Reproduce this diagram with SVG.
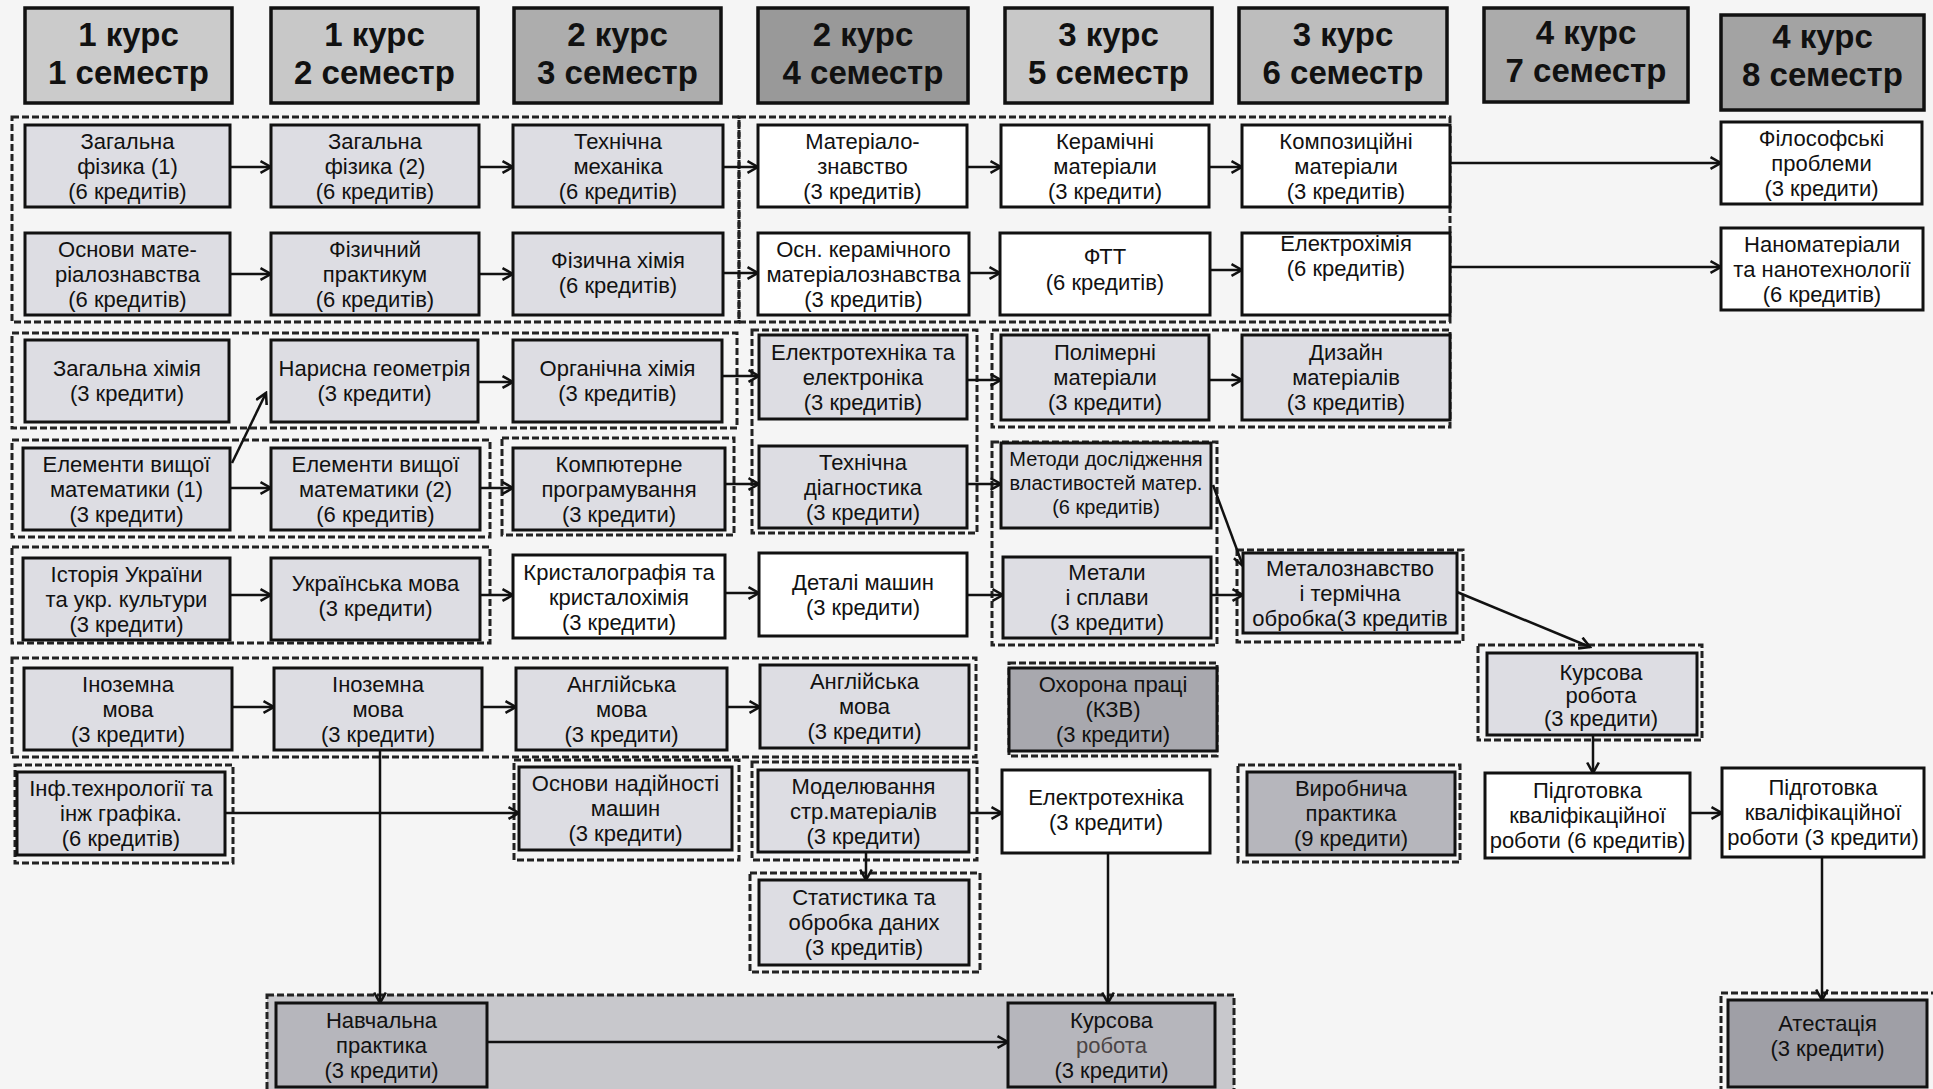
<svg xmlns="http://www.w3.org/2000/svg" width="1933" height="1089" viewBox="0 0 1933 1089">
<style>
.bg{fill:#f5f5f5}
.hdr rect{stroke:#111;stroke-width:3.5}
.hdr text{font-family:"Liberation Sans",Arial,sans-serif;font-size:33px;font-weight:bold;fill:#111;text-anchor:middle}
.n rect{stroke:#111;stroke-width:3}
.n text{font-family:"Liberation Sans",Arial,sans-serif;font-size:22px;fill:#111;text-anchor:middle}
.lt{fill:#dddde3}
.wh{fill:#ffffff}
.dk{fill:#a8a8ae}
.md{fill:#b6b6bc}
.ad{fill:#9f9fa6}
.grp rect{fill:none;stroke:#222;stroke-width:3;stroke-dasharray:7 3}
.conn line{stroke:#111;stroke-width:2.5;marker-end:url(#ah)}
</style>
<defs>
<marker id="ah" viewBox="0 0 12 12" refX="10" refY="6" markerWidth="14" markerHeight="14" markerUnits="userSpaceOnUse" orient="auto">
<path d="M1,1 L10,6 L1,11" fill="none" stroke="#111" stroke-width="2.2"/>
</marker>
</defs>
<rect class="bg" x="0" y="0" width="1933" height="1089"/>

<g id="groups" class="grp">
<rect x="267" y="995" width="967" height="100" style="fill:#c8c8cc"/>
<rect x="12" y="117" width="727" height="205"/>
<rect x="739" y="117" width="711" height="205"/>
<rect x="12" y="333" width="725" height="95"/>
<rect x="752" y="330" width="225" height="203"/>
<rect x="992" y="330" width="458" height="97"/>
<rect x="992" y="442" width="225" height="203"/>
<rect x="1237" y="550" width="226" height="92"/>
<rect x="12" y="440" width="478" height="97"/>
<rect x="502" y="438" width="232" height="97"/>
<rect x="12" y="547" width="478" height="96"/>
<rect x="12" y="658" width="964" height="99"/>
<rect x="1009" y="663" width="208" height="93"/>
<rect x="15" y="765" width="218" height="98"/>
<rect x="514" y="760" width="225" height="100"/>
<rect x="752" y="762" width="225" height="98"/>
<rect x="750" y="873" width="230" height="99"/>
<rect x="1238" y="765" width="222" height="97"/>
<rect x="1721" y="993" width="215" height="100"/>
<rect x="1478" y="645" width="224" height="95"/>
</g>

<g id="headers">
<g id="h1" class="hdr"><rect x="25" y="8" width="207" height="95" fill="#cbcbcb"/><text x="128.5" y="46">1 курс</text><text x="128.5" y="84">1 семестр</text></g>
<g id="h2" class="hdr"><rect x="271" y="8" width="207" height="95" fill="#c8c8c8"/><text x="374.5" y="46">1 курс</text><text x="374.5" y="84">2 семестр</text></g>
<g id="h3" class="hdr"><rect x="514" y="8" width="207" height="95" fill="#adadad"/><text x="617.5" y="46">2 курс</text><text x="617.5" y="84">3 семестр</text></g>
<g id="h4" class="hdr"><rect x="758" y="8" width="210" height="95" fill="#999999"/><text x="863" y="46">2 курс</text><text x="863" y="84">4 семестр</text></g>
<g id="h5" class="hdr"><rect x="1005" y="8" width="207" height="95" fill="#c8c8c8"/><text x="1108.5" y="46">3 курс</text><text x="1108.5" y="84">5 семестр</text></g>
<g id="h6" class="hdr"><rect x="1239" y="8" width="208" height="95" fill="#bdbdbd"/><text x="1343" y="46">3 курс</text><text x="1343" y="84">6 семестр</text></g>
<g id="h7" class="hdr"><rect x="1484" y="8" width="204" height="94" fill="#ababab"/><text x="1586" y="44">4 курс</text><text x="1586" y="82">7 семестр</text></g>
<g id="h8" class="hdr"><rect x="1721" y="15" width="203" height="95" fill="#a3a3a3"/><text x="1822.5" y="48">4 курс</text><text x="1822.5" y="86">8 семестр</text></g>
</g>

<g id="conn" class="conn">
<line x1="230" y1="167" x2="271" y2="167"/>
<line x1="479" y1="167" x2="513" y2="167"/>
<line x1="723" y1="167" x2="758" y2="167"/>
<line x1="967" y1="167" x2="1001" y2="167"/>
<line x1="1209" y1="167" x2="1242" y2="167"/>
<line x1="1450" y1="163" x2="1721" y2="163"/>
<line x1="230" y1="274" x2="271" y2="274"/>
<line x1="479" y1="274" x2="513" y2="274"/>
<line x1="723" y1="273" x2="758" y2="273"/>
<line x1="969" y1="273" x2="1000" y2="273"/>
<line x1="1210" y1="270" x2="1242" y2="270"/>
<line x1="1450" y1="267" x2="1721" y2="267"/>
<line x1="478" y1="382" x2="513" y2="382"/>
<line x1="722" y1="376" x2="759" y2="376"/>
<line x1="967" y1="380" x2="1001" y2="380"/>
<line x1="1209" y1="380" x2="1242" y2="380"/>
<line x1="232" y1="463" x2="266" y2="393"/>
<line x1="230" y1="488" x2="271" y2="488"/>
<line x1="480" y1="488" x2="513" y2="488"/>
<line x1="725" y1="484" x2="759" y2="484"/>
<line x1="967" y1="484" x2="1001" y2="484"/>
<line x1="1213" y1="485" x2="1243" y2="566"/>
<line x1="230" y1="595" x2="271" y2="595"/>
<line x1="480" y1="595" x2="513" y2="595"/>
<line x1="725" y1="593" x2="759" y2="593"/>
<line x1="967" y1="595" x2="1003" y2="595"/>
<line x1="1211" y1="595" x2="1243" y2="595"/>
<line x1="1457" y1="592" x2="1590" y2="647"/>
<line x1="1593" y1="735" x2="1593" y2="773"/>
<line x1="1690" y1="813" x2="1722" y2="813"/>
<line x1="1822" y1="857" x2="1822" y2="1000"/>
<line x1="232" y1="707" x2="274" y2="707"/>
<line x1="482" y1="707" x2="516" y2="707"/>
<line x1="727" y1="707" x2="760" y2="707"/>
<line x1="380" y1="750" x2="380" y2="1003"/>
<line x1="225" y1="813" x2="519" y2="813"/>
<line x1="969" y1="813" x2="1002" y2="813"/>
<line x1="866" y1="852" x2="866" y2="880"/>
<line x1="1108" y1="853" x2="1108" y2="1003"/>
<line x1="487" y1="1042" x2="1008" y2="1042"/>
</g>

<g id="zf1" class="n"><rect class="lt" x="25" y="125" width="205" height="82"/><text x="127.5" y="148.5">Загальна<tspan x="127.5" dy="25">фізика (1)</tspan><tspan x="127.5" dy="25">(6 кредитів)</tspan></text></g>
<g id="zf2" class="n"><rect class="lt" x="271" y="125" width="208" height="82"/><text x="375" y="148.5">Загальна<tspan x="375" dy="25">фізика (2)</tspan><tspan x="375" dy="25">(6 кредитів)</tspan></text></g>
<g id="tm" class="n"><rect class="lt" x="513" y="125" width="210" height="82"/><text x="618" y="148.5">Технічна<tspan x="618" dy="25">механіка</tspan><tspan x="618" dy="25">(6 кредитів)</tspan></text></g>
<g id="mat" class="n"><rect class="wh" x="758" y="125" width="209" height="82"/><text x="862.5" y="148.5">Матеріало-<tspan x="862.5" dy="25">знавство</tspan><tspan x="862.5" dy="25">(3 кредитів)</tspan></text></g>
<g id="ker" class="n"><rect class="wh" x="1001" y="125" width="208" height="82"/><text x="1105" y="148.5">Керамічні<tspan x="1105" dy="25">матеріали</tspan><tspan x="1105" dy="25">(3 кредити)</tspan></text></g>
<g id="komp" class="n"><rect class="wh" x="1242" y="125" width="208" height="82"/><text x="1346" y="148.5">Композиційні<tspan x="1346" dy="25">матеріали</tspan><tspan x="1346" dy="25">(3 кредитів)</tspan></text></g>
<g id="fil" class="n"><rect class="wh" x="1721" y="122" width="201" height="82"/><text x="1821.5" y="145.5">Філософські<tspan x="1821.5" dy="25">проблеми</tspan><tspan x="1821.5" dy="25">(3 кредити)</tspan></text></g>

<g id="osn" class="n"><rect class="lt" x="25" y="233" width="205" height="82"/><text x="127.5" y="256.5">Основи мате-<tspan x="127.5" dy="25">ріалознавства</tspan><tspan x="127.5" dy="25">(6 кредитів)</tspan></text></g>
<g id="fp" class="n"><rect class="lt" x="271" y="233" width="208" height="82"/><text x="375" y="256.5">Фізичний<tspan x="375" dy="25">практикум</tspan><tspan x="375" dy="25">(6 кредитів)</tspan></text></g>
<g id="fh" class="n"><rect class="lt" x="513" y="233" width="210" height="82"/><text x="618" y="268">Фізична хімія<tspan x="618" dy="25">(6 кредитів)</tspan></text></g>
<g id="okm" class="n"><rect class="wh" x="758" y="233" width="211" height="82"/><text x="863.5" y="256.5">Осн. керамічного<tspan x="863.5" dy="25">матеріалознавства</tspan><tspan x="863.5" dy="25">(3 кредитів)</tspan></text></g>
<g id="ftt" class="n"><rect class="wh" x="1000" y="233" width="210" height="82"/><text x="1105" y="264">ФТТ<tspan x="1105" dy="26">(6 кредитів)</tspan></text></g>
<g id="eh" class="n"><rect class="wh" x="1242" y="233" width="208" height="82"/><text x="1346" y="251">Електрохімія<tspan x="1346" dy="25">(6 кредитів)</tspan></text></g>
<g id="nano" class="n"><rect class="wh" x="1721" y="228" width="202" height="82"/><text x="1822" y="251.5">Наноматеріали<tspan x="1822" dy="25">та нанотехнології</tspan><tspan x="1822" dy="25">(6 кредитів)</tspan></text></g>

<g id="zh" class="n"><rect class="lt" x="25" y="340" width="204" height="82"/><text x="127" y="376">Загальна хімія<tspan x="127" dy="25">(3 кредити)</tspan></text></g>
<g id="ng" class="n"><rect class="lt" x="271" y="340" width="207" height="82"/><text x="374.5" y="376">Нарисна геометрія<tspan x="374.5" dy="25">(3 кредити)</tspan></text></g>
<g id="oh" class="n"><rect class="lt" x="513" y="340" width="209" height="82"/><text x="617.5" y="376">Органічна хімія<tspan x="617.5" dy="25">(3 кредитів)</tspan></text></g>
<g id="ete" class="n"><rect class="lt" x="759" y="335" width="208" height="84"/><text x="863" y="359.5">Електротехніка та<tspan x="863" dy="25">електроніка</tspan><tspan x="863" dy="25">(3 кредитів)</tspan></text></g>
<g id="pol" class="n"><rect class="lt" x="1001" y="335" width="208" height="85"/><text x="1105" y="359.5">Полімерні<tspan x="1105" dy="25">матеріали</tspan><tspan x="1105" dy="25">(3 кредити)</tspan></text></g>
<g id="diz" class="n"><rect class="lt" x="1242" y="335" width="208" height="85"/><text x="1346" y="359.5">Дизайн<tspan x="1346" dy="25">матеріалів</tspan><tspan x="1346" dy="25">(3 кредитів)</tspan></text></g>

<g id="evm1" class="n"><rect class="lt" x="23" y="448" width="207" height="82"/><text x="126.5" y="471.5">Елементи вищої<tspan x="126.5" dy="25">математики (1)</tspan><tspan x="126.5" dy="25">(3 кредити)</tspan></text></g>
<g id="evm2" class="n"><rect class="lt" x="271" y="448" width="209" height="82"/><text x="375.5" y="471.5">Елементи вищої<tspan x="375.5" dy="25">математики (2)</tspan><tspan x="375.5" dy="25">(6 кредитів)</tspan></text></g>
<g id="kp" class="n"><rect class="lt" x="513" y="448" width="212" height="82"/><text x="619" y="471.5">Компютерне<tspan x="619" dy="25">програмування</tspan><tspan x="619" dy="25">(3 кредити)</tspan></text></g>
<g id="td" class="n"><rect class="lt" x="759" y="446" width="208" height="82"/><text x="863" y="469.5">Технічна<tspan x="863" dy="25">діагностика</tspan><tspan x="863" dy="25">(3 кредити)</tspan></text></g>
<g id="mdv" class="n"><rect class="lt" x="1001" y="443" width="210" height="85"/><text x="1106" y="466" style="font-size:20px">Методи дослідження<tspan x="1106" dy="24">властивостей матер.</tspan><tspan x="1106" dy="24">(6 кредитів)</tspan></text></g>

<g id="iu" class="n"><rect class="lt" x="23" y="558" width="207" height="82"/><text x="126.5" y="581.5">Історія України<tspan x="126.5" dy="25">та укр. культури</tspan><tspan x="126.5" dy="25">(3 кредити)</tspan></text></g>
<g id="um" class="n"><rect class="lt" x="271" y="558" width="209" height="82"/><text x="375.5" y="591">Українська мова<tspan x="375.5" dy="25">(3 кредити)</tspan></text></g>
<g id="kk" class="n"><rect class="wh" x="513" y="555" width="212" height="83"/><text x="619" y="579.5">Кристалографія та<tspan x="619" dy="25">кристалохімія</tspan><tspan x="619" dy="25">(3 кредити)</tspan></text></g>
<g id="dm" class="n"><rect class="wh" x="759" y="553" width="208" height="83"/><text x="863" y="590">Деталі машин<tspan x="863" dy="25">(3 кредити)</tspan></text></g>
<g id="ms" class="n"><rect class="lt" x="1003" y="557" width="208" height="81"/><text x="1107" y="580">Метали<tspan x="1107" dy="25">і сплави</tspan><tspan x="1107" dy="25">(3 кредити)</tspan></text></g>
<g id="mz" class="n"><rect class="lt" x="1243" y="553" width="214" height="80"/><text x="1350" y="575.5">Металознавство<tspan x="1350" dy="25">і термічна</tspan><tspan x="1350" dy="25">обробка(3 кредитів</tspan></text></g>

<g id="im1" class="n"><rect class="lt" x="24" y="668" width="208" height="82"/><text x="128" y="691.5">Іноземна<tspan x="128" dy="25">мова</tspan><tspan x="128" dy="25">(3 кредити)</tspan></text></g>
<g id="im2" class="n"><rect class="lt" x="274" y="668" width="208" height="82"/><text x="378" y="691.5">Іноземна<tspan x="378" dy="25">мова</tspan><tspan x="378" dy="25">(3 кредити)</tspan></text></g>
<g id="am3" class="n"><rect class="lt" x="516" y="668" width="211" height="82"/><text x="621.5" y="691.5">Англійська<tspan x="621.5" dy="25">мова</tspan><tspan x="621.5" dy="25">(3 кредити)</tspan></text></g>
<g id="am4" class="n"><rect class="lt" x="760" y="665" width="209" height="83"/><text x="864.5" y="689">Англійська<tspan x="864.5" dy="25">мова</tspan><tspan x="864.5" dy="25">(3 кредити)</tspan></text></g>
<g id="ohp" class="n"><rect class="dk" x="1009" y="668" width="208" height="83"/><text x="1113" y="692">Охорона праці<tspan x="1113" dy="25">(КЗВ)</tspan><tspan x="1113" dy="25">(3 кредити)</tspan></text></g>
<g id="kr7" class="n"><rect class="lt" x="1487" y="653" width="210" height="82"/><text x="1601" y="680">Курсова<tspan x="1601" dy="23">робота</tspan><tspan x="1601" dy="23">(3 кредити)</tspan></text></g>

<g id="inf" class="n"><rect class="lt" x="17" y="772" width="208" height="83"/><text x="121" y="796">Інф.технрології та<tspan x="121" dy="25">інж графіка.</tspan><tspan x="121" dy="25">(6 кредитів)</tspan></text></g>
<g id="onm" class="n"><rect class="lt" x="519" y="767" width="213" height="83"/><text x="625.5" y="791">Основи надійності<tspan x="625.5" dy="25">машин</tspan><tspan x="625.5" dy="25">(3 кредити)</tspan></text></g>
<g id="mod" class="n"><rect class="lt" x="758" y="770" width="211" height="82"/><text x="863.5" y="793.5">Моделювання<tspan x="863.5" dy="25">стр.матеріалів</tspan><tspan x="863.5" dy="25">(3 кредити)</tspan></text></g>
<g id="el" class="n"><rect class="wh" x="1002" y="770" width="208" height="83"/><text x="1106" y="805">Електротехніка<tspan x="1106" dy="25">(3 кредити)</tspan></text></g>
<g id="vp" class="n"><rect class="md" x="1247" y="772" width="208" height="83"/><text x="1351" y="796">Виробнича<tspan x="1351" dy="25">практика</tspan><tspan x="1351" dy="25">(9 кредити)</tspan></text></g>
<g id="pk7" class="n"><rect class="wh" x="1485" y="773" width="205" height="85"/><text x="1587.5" y="797.5">Підготовка<tspan x="1587.5" dy="25">кваліфікаційної</tspan><tspan x="1587.5" dy="25">роботи (6 кредитів)</tspan></text></g>
<g id="pk8" class="n"><rect class="wh" x="1722" y="768" width="202" height="89"/><text x="1823" y="795">Підготовка<tspan x="1823" dy="25">кваліфікаційної</tspan><tspan x="1823" dy="25">роботи (3 кредити)</tspan></text></g>

<g id="st" class="n"><rect class="lt" x="759" y="880" width="210" height="85"/><text x="864" y="905">Статистика та<tspan x="864" dy="25">обробка даних</tspan><tspan x="864" dy="25">(3 кредитів)</tspan></text></g>

<g id="np" class="n"><rect class="md" x="276" y="1003" width="211" height="84"/><text x="381.5" y="1027.5">Навчальна<tspan x="381.5" dy="25">практика</tspan><tspan x="381.5" dy="25">(3 кредити)</tspan></text></g>
<g id="kr5" class="n"><rect class="md" x="1008" y="1003" width="207" height="84"/><text x="1111.5" y="1027.5">Курсова<tspan x="1111.5" dy="25" fill="#4a4444">робота</tspan><tspan x="1111.5" dy="25">(3 кредити)</tspan></text></g>
<g id="at" class="n"><rect class="ad" x="1728" y="1000" width="199" height="87"/><text x="1827.5" y="1031">Атестація<tspan x="1827.5" dy="25">(3 кредити)</tspan></text></g>
</svg>
